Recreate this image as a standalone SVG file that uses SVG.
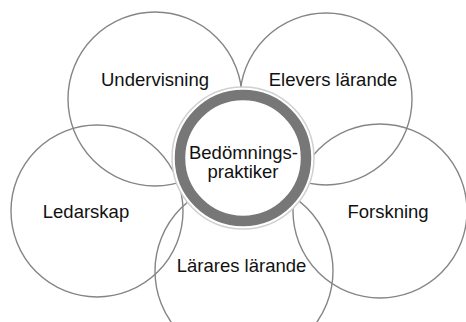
<svg xmlns="http://www.w3.org/2000/svg" width="466" height="322" viewBox="0 0 466 322">
<style>
.c{fill:none;stroke:#858585;stroke-width:1.4}
.t{font-family:"Liberation Sans",Arial,sans-serif;font-size:18.5px;fill:#111;text-anchor:middle}
</style>
<rect width="466" height="322" fill="#fff"/>
<g id="undervisning"><circle class="c" cx="155" cy="99" r="87"/><text class="t" x="155" y="86">Undervisning</text></g>
<g id="elevers-larande"><circle class="c" cx="326" cy="99" r="86"/><text class="t" x="333" y="86">Elevers lärande</text></g>
<g id="ledarskap"><circle class="c" cx="97" cy="211" r="86"/><text class="t" x="86" y="218">Ledarskap</text></g>
<g id="forskning"><circle class="c" cx="380" cy="211" r="87"/><text class="t" x="388" y="218">Forskning</text></g>
<g id="lararnas-larande"><circle class="c" cx="244" cy="271" r="89"/><text class="t" x="241.5" y="272">Lärares lärande</text></g>
<g id="bedomningspraktiker">
<circle cx="243" cy="158" r="71" fill="#fff" stroke="#d0d0d0" stroke-width="1.5"/>
<circle cx="243" cy="158" r="63" fill="#fff" stroke="#777" stroke-width="10.5"/>
<text class="t" x="243.5" y="159">Bedömnings-</text>
<text class="t" x="243" y="178">praktiker</text>
</g>
<g id="connectors"></g>
</svg>
